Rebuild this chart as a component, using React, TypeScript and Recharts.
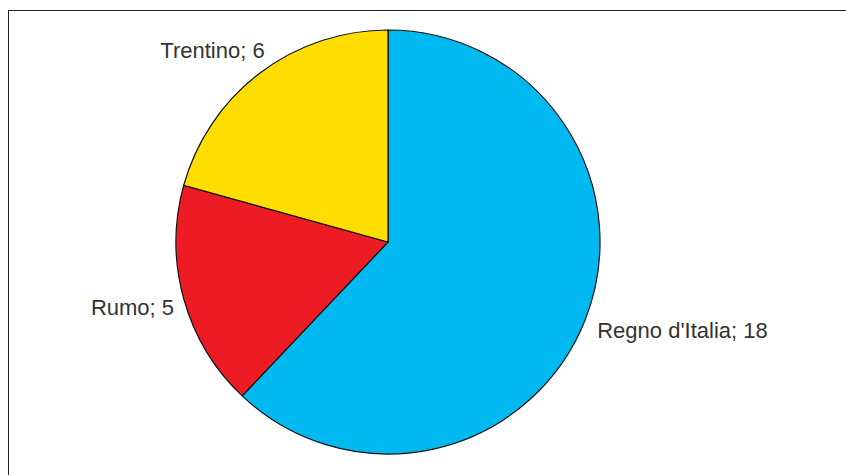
import React from "react";
import { PieChart, Pie, Cell } from "recharts";

const names = ["Regno d'Italia", "Rumo", "Trentino"];
const values = [18, 5, 6];
const colors = ["#00B9F1", "#ED1C24", "#FFDD00"];

const data = names.map((n, i) => ({ name: n, value: values[i] }));

const RADIAN = Math.PI / 180;

const renderLabel = (props: any) => {
  const { cx, cy, midAngle, outerRadius, name, value } = props;
  const cos = Math.cos(-midAngle * RADIAN);
  const sin = Math.sin(-midAngle * RADIAN);
  const r = outerRadius + 10;
  const px = cx + r * cos;
  const py = cy + r * sin;
  const anchor = cos >= 0 ? "start" : "end";
  const upper = sin < 0;
  const x = px + (cos >= 0 ? 3 : 0) + (upper ? 11 : 0);
  const y = upper ? py - 7 : py + 14;
  return (
    <text
      x={x}
      y={y}
      textAnchor={anchor}
      fill="#333"
      fontSize={22}
      fontFamily="'Liberation Sans', Arial, sans-serif"
    >
      {`${name}; ${value}`}
    </text>
  );
};

export default function App() {
  return (
    <div style={{ position: "absolute", left: 0, top: 0, width: 846, height: 475, background: "#fff" }}>
      <div
        style={{
          position: "absolute",
          left: 8,
          top: 10,
          width: 837,
          height: 470,
          borderTop: "1.5px solid #222",
          borderLeft: "1.5px solid #222",
        }}
      />
      <div style={{ position: "absolute", left: 0, top: 0 }}>
        <PieChart width={846} height={475} margin={{ top: 0, right: 0, bottom: 0, left: 0 }}>
          <Pie
            data={data}
            dataKey="value"
            nameKey="name"
            cx={388}
            cy={242}
            outerRadius={212}
            startAngle={90}
            endAngle={-270}
            stroke="#111"
            strokeWidth={1.2}
            label={renderLabel}
            labelLine={false}
            isAnimationActive={false}
          >
            {data.map((d, i) => (
              <Cell key={d.name} fill={colors[i]} />
            ))}
          </Pie>
        </PieChart>
      </div>
    </div>
  );
}
